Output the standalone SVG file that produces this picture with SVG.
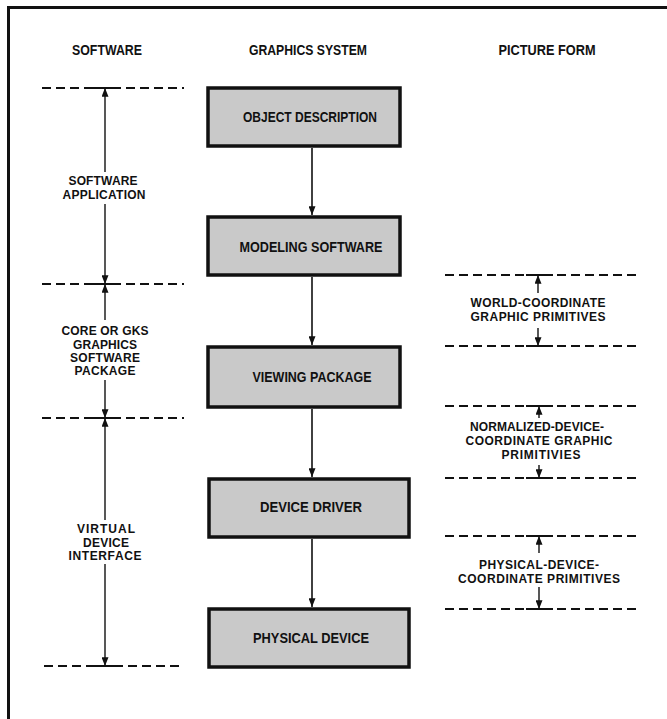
<svg xmlns="http://www.w3.org/2000/svg" width="667" height="719" viewBox="0 0 667 719">
<defs>
<marker id="ah" viewBox="0 0 10 8" refX="10" refY="4" markerWidth="9" markerHeight="7" markerUnits="userSpaceOnUse" orient="auto"><path d="M0,0 L10,4 L0,8 z" fill="#111"/></marker>
<style>
.hd{font-family:"Liberation Sans",Arial,sans-serif;font-weight:bold;font-size:15px;fill:#111;text-anchor:middle}
.bx{fill:#c9c9c9;stroke:#111;stroke-width:3.5}
.bl{font-family:"Liberation Sans",Arial,sans-serif;font-weight:bold;font-size:15px;fill:#111;text-anchor:middle}
.lb{font-family:"Liberation Sans",Arial,sans-serif;font-weight:bold;font-size:12px;fill:#111;text-anchor:middle}
.dash{stroke:#111;stroke-width:2;stroke-dasharray:9 5;fill:none}
.tick{stroke:#111;stroke-width:2;fill:none}
.dim{stroke:#111;stroke-width:1.4;fill:none;marker-end:url(#ah)}
.con{stroke:#111;stroke-width:1.6;fill:none;marker-end:url(#ah)}
.frame{stroke:#111;stroke-width:3;fill:none}
</style>
</defs>
<rect width="667" height="719" fill="#fff"/>
<path class="frame" d="M8.5,719 L8.5,7.5 L667,7.5"/>

<g id="headers">
<text class="hd" x="107" y="55" textLength="70" lengthAdjust="spacingAndGlyphs">SOFTWARE</text>
<text class="hd" x="308" y="55" textLength="118" lengthAdjust="spacingAndGlyphs">GRAPHICS SYSTEM</text>
<text class="hd" x="547" y="55" textLength="97" lengthAdjust="spacingAndGlyphs">PICTURE FORM</text>
</g>

<g id="object-description">
<rect class="bx" x="208" y="88" width="192" height="58"/>
<text class="bl" x="310" y="122" textLength="134" lengthAdjust="spacingAndGlyphs">OBJECT DESCRIPTION</text>
</g>
<g id="modeling-software">
<rect class="bx" x="208" y="217" width="192" height="58"/>
<text class="bl" x="311" y="252" textLength="143" lengthAdjust="spacingAndGlyphs">MODELING SOFTWARE</text>
</g>
<g id="viewing-package">
<rect class="bx" x="208" y="347" width="192" height="60"/>
<text class="bl" x="312" y="382" textLength="119" lengthAdjust="spacingAndGlyphs">VIEWING PACKAGE</text>
</g>
<g id="device-driver">
<rect class="bx" x="209" y="479" width="200" height="58"/>
<text class="bl" x="311" y="512" textLength="102" lengthAdjust="spacingAndGlyphs">DEVICE DRIVER</text>
</g>
<g id="physical-device">
<rect class="bx" x="209" y="609" width="200" height="58"/>
<text class="bl" x="311" y="643" textLength="116" lengthAdjust="spacingAndGlyphs">PHYSICAL DEVICE</text>
</g>

<g id="connectors">
<line class="con" x1="312" y1="148" x2="312" y2="215"/>
<line class="con" x1="312" y1="277" x2="312" y2="345"/>
<line class="con" x1="312" y1="409" x2="312" y2="477"/>
<line class="con" x1="312" y1="539" x2="312" y2="607"/>
</g>

<g id="software-levels">
<line class="dash" x1="42" y1="88" x2="184" y2="88"/>
<line class="dash" x1="42" y1="284" x2="184" y2="284"/>
<line class="dash" x1="42" y1="418" x2="184" y2="418"/>
<line class="dash" x1="44" y1="666" x2="182" y2="666"/>
<line class="tick" x1="92" y1="88" x2="118" y2="88"/>
<line class="tick" x1="92" y1="284" x2="118" y2="284"/>
<line class="tick" x1="92" y1="418" x2="118" y2="418"/>
<line class="tick" x1="92" y1="666" x2="118" y2="666"/>

<line class="dim" x1="105" y1="172" x2="105" y2="88"/>
<line class="dim" x1="105" y1="204" x2="105" y2="284"/>
<text class="lb" x="103" y="185" textLength="69" lengthAdjust="spacing">SOFTWARE</text>
<text class="lb" x="104" y="199" textLength="83" lengthAdjust="spacing">APPLICATION</text>

<line class="dim" x1="105" y1="320" x2="105" y2="284"/>
<line class="dim" x1="105" y1="380" x2="105" y2="418"/>
<text class="lb" x="105" y="335" textLength="87" lengthAdjust="spacing">CORE OR GKS</text>
<text class="lb" x="105" y="349" textLength="64" lengthAdjust="spacing">GRAPHICS</text>
<text class="lb" x="105" y="362" textLength="70" lengthAdjust="spacing">SOFTWARE</text>
<text class="lb" x="105" y="375" textLength="61" lengthAdjust="spacing">PACKAGE</text>

<line class="dim" x1="105" y1="520" x2="105" y2="418"/>
<line class="dim" x1="105" y1="564" x2="105" y2="666"/>
<text class="lb" x="106" y="533" textLength="58" lengthAdjust="spacing">VIRTUAL</text>
<text class="lb" x="106" y="547" textLength="46" lengthAdjust="spacing">DEVICE</text>
<text class="lb" x="105" y="560" textLength="73" lengthAdjust="spacing">INTERFACE</text>
</g>

<g id="picture-forms">
<line class="dash" x1="445" y1="275" x2="636" y2="275"/>
<line class="dash" x1="445" y1="346" x2="636" y2="346"/>
<line class="dash" x1="445" y1="406" x2="636" y2="406"/>
<line class="dash" x1="445" y1="478" x2="636" y2="478"/>
<line class="dash" x1="445" y1="536" x2="636" y2="536"/>
<line class="dash" x1="445" y1="609" x2="636" y2="609"/>
<line class="tick" x1="526" y1="275" x2="553" y2="275"/>
<line class="tick" x1="526" y1="346" x2="553" y2="346"/>
<line class="tick" x1="526" y1="406" x2="553" y2="406"/>
<line class="tick" x1="526" y1="478" x2="553" y2="478"/>
<line class="tick" x1="526" y1="536" x2="553" y2="536"/>
<line class="tick" x1="526" y1="609" x2="553" y2="609"/>

<line class="dim" x1="538" y1="293" x2="538" y2="275"/>
<line class="dim" x1="538" y1="328" x2="538" y2="346"/>
<text class="lb" x="538" y="307" textLength="135" lengthAdjust="spacing">WORLD-COORDINATE</text>
<text class="lb" x="538" y="321" textLength="135" lengthAdjust="spacing">GRAPHIC PRIMITIVES</text>

<line class="dim" x1="539" y1="418" x2="539" y2="406"/>
<line class="dim" x1="539" y1="465" x2="539" y2="478"/>
<text class="lb" x="537" y="431" textLength="134" lengthAdjust="spacing">NORMALIZED-DEVICE-</text>
<text class="lb" x="539" y="445" textLength="147" lengthAdjust="spacing">COORDINATE GRAPHIC</text>
<text class="lb" x="541" y="459" textLength="79" lengthAdjust="spacing">PRIMITIVIES</text>

<line class="dim" x1="539" y1="553" x2="539" y2="536"/>
<line class="dim" x1="539" y1="587" x2="539" y2="609"/>
<text class="lb" x="539" y="569" textLength="120" lengthAdjust="spacing">PHYSICAL-DEVICE-</text>
<text class="lb" x="539" y="583" textLength="162" lengthAdjust="spacing">COORDINATE PRIMITIVES</text>
</g>
</svg>
